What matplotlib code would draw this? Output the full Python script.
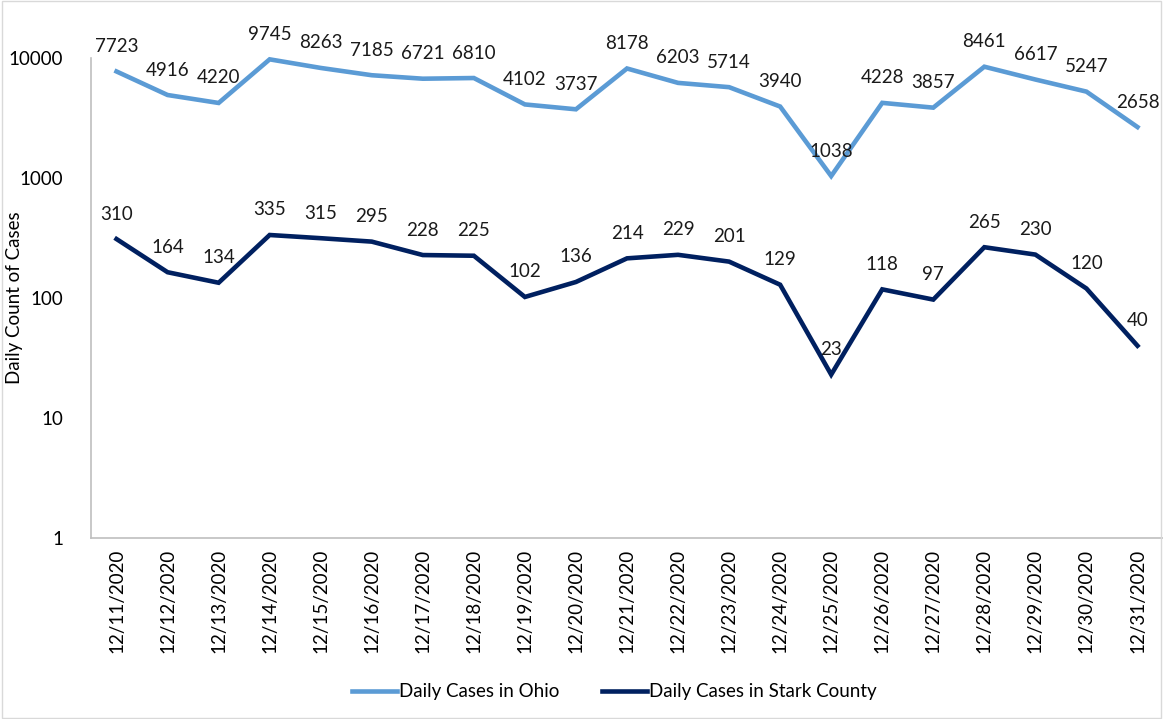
import matplotlib
matplotlib.use("Agg")
import matplotlib.pyplot as plt
from matplotlib.patches import Rectangle

dates = ["12/11/2020", "12/12/2020", "12/13/2020", "12/14/2020", "12/15/2020",
         "12/16/2020", "12/17/2020", "12/18/2020", "12/19/2020", "12/20/2020",
         "12/21/2020", "12/22/2020", "12/23/2020", "12/24/2020", "12/25/2020",
         "12/26/2020", "12/27/2020", "12/28/2020", "12/29/2020", "12/30/2020",
         "12/31/2020"]
ohio = [7723, 4916, 4220, 9745, 8263, 7185, 6721, 6810, 4102, 3737, 8178,
        6203, 5714, 3940, 1038, 4228, 3857, 8461, 6617, 5247, 2658]
stark = [310, 164, 134, 335, 315, 295, 228, 225, 102, 136, 214, 229, 201,
         129, 23, 118, 97, 265, 230, 120, 40]
ytick_vals = [1, 10, 100, 1000, 10000]

plt.rcParams['font.family'] = ['Lato', 'DejaVu Sans']
FS = 13.5

fig = plt.figure(figsize=(11.63, 7.19), dpi=100)
ax = fig.add_axes([91/1163, 1 - 538/719, 1 - 91/1163, (538 - 58)/719])

x = list(range(len(dates)))
c_ohio = "#5B9BD5"
c_stark = "#002060"
ax.plot(x, ohio, color=c_ohio, lw=3.3, solid_joinstyle='miter', clip_on=False,
        label="Daily Cases in Ohio")
ax.plot(x, stark, color=c_stark, lw=3.3, solid_joinstyle='miter', clip_on=False,
        label="Daily Cases in Stark County")

for xi, v in zip(x, ohio):
    ax.annotate(str(v), (xi, v), xytext=(0, 25), textcoords='offset pixels',
                ha='center', va='center', fontsize=FS, color='#1a1a1a',
                annotation_clip=False)
for xi, v in zip(x, stark):
    ax.annotate(str(v), (xi, v), xytext=(0, 25), textcoords='offset pixels',
                ha='center', va='center', fontsize=FS, color='#1a1a1a',
                annotation_clip=False)

ax.set_yscale('log')
ax.set_ylim(1, 10000)
ax.set_xlim(-0.5, len(dates) - 0.5)
ax.set_yticks(ytick_vals)
ax.set_yticklabels([str(v) for v in ytick_vals])
ax.minorticks_off()
ax.set_xticks(x)
ax.set_xticklabels(dates, rotation=90, fontsize=FS)
ax.tick_params(axis='y', length=0, pad=20, labelsize=FS)
ax.tick_params(axis='x', length=0, pad=8)

for s in ['top', 'right']:
    ax.spines[s].set_visible(False)
for s in ['left', 'bottom']:
    ax.spines[s].set_color('#BFBFBF')
    ax.spines[s].set_linewidth(1.2)

ax.set_ylabel("Daily Count of Cases", fontsize=FS)
ax.yaxis.set_label_coords(-0.063, 0.5)

fig.legend(loc='center', bbox_to_anchor=(0.528, 1 - 692/719), ncol=2,
           frameon=False, fontsize=FS, handlelength=2.4, columnspacing=2.3,
           handletextpad=0.1)

fig.patches.append(Rectangle((0.002, 0.002), 0.996, 0.996, transform=fig.transFigure,
                             fill=False, edgecolor='#D9D9D9', lw=1))

fig.savefig("out.png", dpi=100)
